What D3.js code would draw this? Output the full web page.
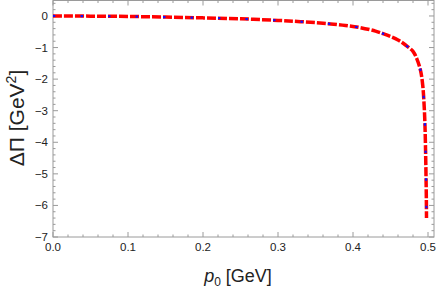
<!DOCTYPE html>
<html>
<head>
<meta charset="utf-8">
<script src="https://cdn.jsdelivr.net/npm/d3@7"></script>
<style>
  body { margin: 0; background: #fff; }
  text { font-family: "Liberation Sans", Arial, sans-serif; }
</style>
</head>
<body>
<script>
// values
const p0 = [0, 0.05, 0.1, 0.15, 0.2, 0.25, 0.3, 0.33, 0.36, 0.39, 0.41, 0.43, 0.44, 0.45, 0.46, 0.47, 0.48, 0.485, 0.49, 0.493, 0.495, 0.496, 0.4967, 0.4973, 0.4978, 0.498];
const dPi = [0, -0.005, -0.015, -0.035, -0.06, -0.09, -0.14, -0.18, -0.23, -0.3, -0.37, -0.48, -0.56, -0.65, -0.76, -0.92, -1.12, -1.35, -1.72, -2.2, -2.9, -3.5, -4.2, -5.0, -5.8, -6.4];
const xTicks = [0, 0.1, 0.2, 0.3, 0.4, 0.5];
const yTicks = [0, -1, -2, -3, -4, -5, -6, -7];

const W = 436, H = 288;
const margin = { top: 0.5, right: 2, bottom: 51, left: 53 };
const width = W - margin.left - margin.right;
const height = H - margin.top - margin.bottom;

const data = p0.map((d, i) => ({ x: d, y: dPi[i] }));

const x = d3.scaleLinear().domain([0, 0.508]).range([0, width]);
const y = d3.scaleLinear().domain([-7, 0.49]).range([height, 0]);

const svg = d3.select('body').append('svg')
  .attr('width', W).attr('height', H);

const g = svg.append('g')
  .attr('transform', 'translate(' + margin.left + ',' + margin.top + ')');

const frameColor = '#9a9a9a';
const minorX = d3.range(0, 0.5081, 0.02);
const minorY = d3.range(-7, 0.491, 0.2);

// frame ticks (inward)
const tk = g.append('g').attr('stroke', frameColor).attr('stroke-width', 1);
minorX.forEach(v => {
  const major = xTicks.some(t => Math.abs(t - v) < 1e-6);
  const len = major ? 5 : 2.5;
  tk.append('line').attr('x1', x(v)).attr('x2', x(v)).attr('y1', height).attr('y2', height - len);
  tk.append('line').attr('x1', x(v)).attr('x2', x(v)).attr('y1', 0).attr('y2', len);
});
minorY.forEach(v => {
  const major = yTicks.some(t => Math.abs(t - v) < 1e-6);
  const len = major ? 5 : 2.5;
  tk.append('line').attr('y1', y(v)).attr('y2', y(v)).attr('x1', 0).attr('x2', len);
  tk.append('line').attr('y1', y(v)).attr('y2', y(v)).attr('x1', width).attr('x2', width - len);
});

g.append('rect')
  .attr('width', width).attr('height', height)
  .attr('fill', 'none').attr('stroke', frameColor).attr('stroke-width', 1);

// tick labels
g.selectAll('.xl').data(xTicks).enter().append('text')
  .attr('x', d => x(d)).attr('y', height + 14)
  .attr('text-anchor', 'middle').attr('font-size', 11.5).attr('fill', '#222')
  .text(d => d3.format('.1f')(d));

g.selectAll('.yl').data(yTicks).enter().append('text')
  .attr('x', -5).attr('y', d => y(d) + 4)
  .attr('text-anchor', 'end').attr('font-size', 11.5).attr('fill', '#222')
  .text(d => d3.format('d')(d).replace('-', '\u2212'));

// curves
const line = d3.line().x(d => x(d.x)).y(d => y(d.y)).curve(d3.curveCatmullRom.alpha(0.5));

g.append('path').datum(data)
  .attr('d', line).attr('fill', 'none')
  .attr('stroke', '#ff0000').attr('stroke-width', 3.5)
  .attr('stroke-dasharray', '9,2');

g.append('path').datum(data)
  .attr('d', line).attr('fill', 'none')
  .attr('stroke', '#1010ff').attr('stroke-width', 2.2)
  .attr('stroke-dasharray', '2.5,25');

// axis labels
svg.append('text')
  .attr('x', 238).attr('y', 282)
  .attr('text-anchor', 'middle').attr('font-size', 18).attr('fill', '#222')
  .html('<tspan font-style="italic">p</tspan><tspan font-size="12" dy="4">0</tspan><tspan dy="-4"> [GeV]</tspan>');

svg.append('text')
  .attr('transform', 'translate(24,118) rotate(-90)')
  .attr('text-anchor', 'middle').attr('font-size', 21).attr('fill', '#222')
  .html('\u0394\u03A0 [GeV<tspan font-size="14" dy="-8">2</tspan><tspan dy="8">]</tspan>');
</script>
</body>
</html>
